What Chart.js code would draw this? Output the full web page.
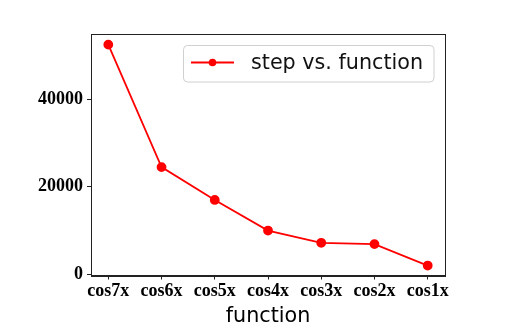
<!DOCTYPE html>
<html>
<head>
<meta charset="utf-8">
<script src="https://cdn.jsdelivr.net/npm/chart.js@4/dist/chart.umd.min.js"></script>
<style>
  html, body { margin: 0; padding: 0; background: #fff; }
  #wrap { width: 505px; height: 336px; }
</style>
</head>
<body>
<div id="wrap"><canvas id="c" width="505" height="336"></canvas></div>
<script>
const categories = ['cos7x', 'cos6x', 'cos5x', 'cos4x', 'cos3x', 'cos2x', 'cos1x'];
const stepValues = [52500, 24500, 17000, 10000, 7200, 6900, 2000];
const yTickValues = [0, 20000, 40000];
const seriesLabel = 'step vs. function';
const xTitle = 'function';

const points = categories.map((c, i) => ({ x: i, y: stepValues[i] }));

const frameAndLegend = {
  id: 'frameAndLegend',
  afterDraw(chart) {
    const ctx = chart.ctx;
    const a = chart.chartArea;
    ctx.save();
    ctx.strokeStyle = '#222';
    ctx.lineWidth = 1;
    ctx.strokeRect(Math.round(a.left) + 0.5, Math.round(a.top) + 0.5,
                   Math.round(a.right - a.left), Math.round(a.bottom - a.top));
    // legend
    const ds = chart.data.datasets[0];
    const bx = 183.5, by = 45.5, bw = 250.5, bh = 36.5, r = 4;
    ctx.beginPath();
    ctx.moveTo(bx + r, by);
    ctx.lineTo(bx + bw - r, by);
    ctx.arcTo(bx + bw, by, bx + bw, by + r, r);
    ctx.lineTo(bx + bw, by + bh - r);
    ctx.arcTo(bx + bw, by + bh, bx + bw - r, by + bh, r);
    ctx.lineTo(bx + r, by + bh);
    ctx.arcTo(bx, by + bh, bx, by + bh - r, r);
    ctx.lineTo(bx, by + r);
    ctx.arcTo(bx, by, bx + r, by, r);
    ctx.closePath();
    ctx.fillStyle = 'rgba(255,255,255,0.8)';
    ctx.fill();
    ctx.strokeStyle = '#d0d0d0';
    ctx.stroke();
    const ly = 62.5;
    ctx.strokeStyle = ds.borderColor;
    ctx.lineWidth = ds.borderWidth;
    ctx.beginPath();
    ctx.moveTo(191, ly);
    ctx.lineTo(234, ly);
    ctx.stroke();
    ctx.fillStyle = ds.pointBackgroundColor;
    ctx.beginPath();
    ctx.arc(212.5, ly, 3.8, 0, Math.PI * 2);
    ctx.fill();
    ctx.fillStyle = '#111';
    ctx.font = '20.7px "DejaVu Sans"';
    ctx.textBaseline = 'middle';
    ctx.textAlign = 'left';
    ctx.fillText(ds.label, 251, ly + 1);
    ctx.restore();
  }
};

new Chart(document.getElementById('c'), {
  type: 'line',
  data: {
    datasets: [{
      label: seriesLabel,
      data: points,
      borderColor: '#ff0000',
      backgroundColor: '#ff0000',
      pointBackgroundColor: '#ff0000',
      pointBorderColor: '#ff0000',
      borderWidth: 1.8,
      pointRadius: 4,
      pointHoverRadius: 4,
      tension: 0,
      fill: false
    }]
  },
  options: {
    responsive: false,
    animation: false,
    events: [],
    layout: { padding: { left: 0, right: 60, top: 34, bottom: 7 } },
    plugins: { legend: { display: false }, tooltip: { enabled: false } },
    scales: {
      x: {
        type: 'linear',
        min: -0.325,
        max: 6.325,
        afterBuildTicks(scale) { scale.ticks = categories.map((c, i) => ({ value: i })); },
        afterFit(scale) { scale.height = 53.5; },
        ticks: {
          callback: (v) => categories[v],
          color: '#000',
          font: { family: '"Liberation Serif"', weight: 'bold', size: 18 },
          padding: 1,
          maxRotation: 0,
          autoSkip: false
        },
        grid: { display: true, drawOnChartArea: false, drawTicks: true, tickLength: 4, tickColor: '#222' },
        border: { display: true, color: '#222' },
        title: {
          display: true,
          text: xTitle,
          color: '#000',
          font: { family: '"DejaVu Sans"', size: 20.7 },
          padding: { top: 0, bottom: 0 }
        }
      },
      y: {
        type: 'linear',
        min: -274,
        max: 54926,
        afterBuildTicks(scale) { scale.ticks = yTickValues.map(v => ({ value: v })); },
        afterFit(scale) { scale.width = 91; },
        ticks: {
          callback: (v) => String(v),
          color: '#000',
          font: { family: '"Liberation Serif"', weight: 'bold', size: 18 },
          padding: 4
        },
        grid: { display: true, drawOnChartArea: false, drawTicks: true, tickLength: 4, tickColor: '#222' },
        border: { display: true, color: '#222' }
      }
    }
  },
  plugins: [frameAndLegend]
});
</script>
</body>
</html>
